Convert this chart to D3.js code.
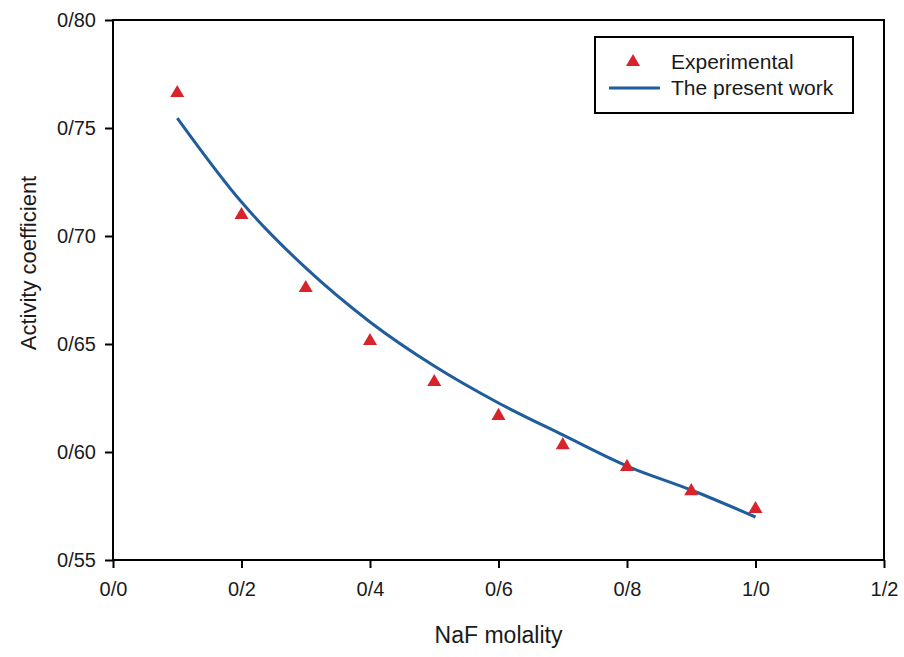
<!DOCTYPE html>
<html>
<head>
<meta charset="utf-8">
<script src="https://cdn.jsdelivr.net/npm/d3@7"></script>
<style>
  body { margin: 0; background: #fff; }
  text { font-family: "Liberation Sans", Arial, sans-serif; fill: #1a1a1a; }
</style>
</head>
<body>
<svg></svg>
<script>
// data
var molality = [0.1, 0.2, 0.3, 0.4, 0.5, 0.6, 0.7, 0.8, 0.9, 1.0];
var experimental = [0.7662, 0.7097, 0.6759, 0.6514, 0.6324, 0.6167, 0.6032, 0.5931, 0.5819, 0.5736];
var presentWork = [0.7546, 0.7157, 0.6852, 0.6602, 0.6398, 0.6227, 0.6079, 0.5935, 0.5824, 0.5699];

var xTicks = [0.0, 0.2, 0.4, 0.6, 0.8, 1.0, 1.2];
var xTickLabels = ["0/0", "0/2", "0/4", "0/6", "0/8", "1/0", "1/2"];
var yTicks = [0.55, 0.60, 0.65, 0.70, 0.75, 0.80];
var yTickLabels = ["0/55", "0/60", "0/65", "0/70", "0/75", "0/80"];

var svgWidth = 904, svgHeight = 657;
var svg = d3.select('svg')
  .attr('width', svgWidth)
  .attr('height', svgHeight);

var plotLeft = 113, plotRight = 884, plotTop = 20, plotBottom = 560;

var x = d3.scaleLinear().domain([0, 1.2]).range([plotLeft, plotRight]);
var y = d3.scaleLinear().domain([0.55, 0.80]).range([plotBottom, plotTop]);

// frame
svg.append("rect")
  .attr("x", plotLeft).attr("y", plotTop)
  .attr("width", plotRight - plotLeft).attr("height", plotBottom - plotTop)
  .attr("fill", "none").attr("stroke", "#000").attr("stroke-width", 2);

// axes
var xAxis = d3.axisBottom(x)
  .tickValues(xTicks)
  .tickSize(8)
  .tickPadding(14)
  .tickFormat(function (d, i) { return xTickLabels[i]; });

var yAxis = d3.axisLeft(y)
  .tickValues(yTicks)
  .tickSize(8)
  .tickPadding(9)
  .tickFormat(function (d, i) { return yTickLabels[i]; });

var gx = svg.append("g").attr("transform", "translate(0," + plotBottom + ")").call(xAxis);
var gy = svg.append("g").attr("transform", "translate(" + plotLeft + ",0)").call(yAxis);

[gx, gy].forEach(function (g) {
  g.select(".domain").remove();
  g.selectAll(".tick line").attr("stroke", "#000").attr("stroke-width", 2);
  g.selectAll(".tick text")
    .attr("font-size", "20px")
    .attr("font-family", "Liberation Sans, Arial, sans-serif")
    .attr("fill", "#1a1a1a");
});

// axis titles
svg.append("text")
  .attr("x", (plotLeft + plotRight) / 2)
  .attr("y", 643)
  .attr("text-anchor", "middle")
  .attr("font-size", "23px")
  .text("NaF molality");

svg.append("text")
  .attr("transform", "translate(36,263) rotate(-90)")
  .attr("text-anchor", "middle")
  .attr("font-size", "22px")
  .text("Activity coefficient");

// model line
var line = d3.line()
  .x(function (d, i) { return x(molality[i]); })
  .y(function (d) { return y(d); })
  .curve(d3.curveMonotoneX);

svg.append("path")
  .datum(presentWork)
  .attr("d", line)
  .attr("fill", "none")
  .attr("stroke", "#1f5d9c")
  .attr("stroke-width", 3);

// experimental points
var tri = d3.symbol().type(d3.symbolTriangle).size(85);

svg.selectAll(".pt")
  .data(experimental)
  .enter()
  .append("path")
  .attr("class", "pt")
  .attr("d", tri)
  .attr("transform", function (d, i) { return "translate(" + x(molality[i]) + "," + y(d) + ")"; })
  .attr("fill", "#d8222c");

// legend
var lg = svg.append("g");
lg.append("rect")
  .attr("x", 595).attr("y", 37)
  .attr("width", 258).attr("height", 76)
  .attr("fill", "#fff").attr("stroke", "#000").attr("stroke-width", 2);

lg.append("path")
  .attr("d", tri)
  .attr("transform", "translate(633,62)")
  .attr("fill", "#d8222c");

lg.append("line")
  .attr("x1", 609).attr("x2", 660)
  .attr("y1", 88).attr("y2", 88)
  .attr("stroke", "#1f5d9c").attr("stroke-width", 3);

lg.append("text").attr("x", 671).attr("y", 69).attr("font-size", "21px").text("Experimental");
lg.append("text").attr("x", 671).attr("y", 95).attr("font-size", "21px").text("The present work");
</script>
</body>
</html>
